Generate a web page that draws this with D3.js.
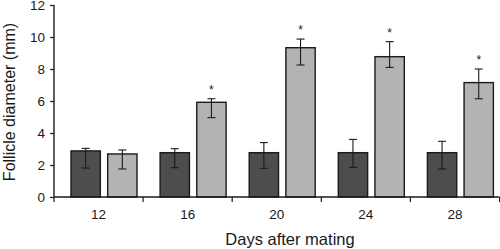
<!DOCTYPE html>
<html>
<head>
<meta charset="utf-8">
<script src="https://cdn.jsdelivr.net/npm/d3@7"></script>
<style>
  body { margin: 0; background: #fff; }
  text { font-family: "Liberation Sans", Arial, sans-serif; fill: #1a1a1a; }
</style>
</head>
<body>
<svg class="main" width="500" height="249"></svg>
<script>
// данные графика
const days = ["12", "16", "20", "24", "28"];
const groups = ["dark", "light"];
const darkMean = [2.88, 2.77, 2.77, 2.77, 2.77];
const darkLow = [1.81, 1.83, 1.79, 1.85, 1.75];
const darkHigh = [3.04, 3.02, 3.40, 3.60, 3.48];
const lightMean = [2.69, 5.92, 9.33, 8.77, 7.15];
const lightLow = [1.75, 4.96, 8.25, 8.10, 6.14];
const lightHigh = [2.94, 6.14, 9.87, 9.71, 8.00];
const starred = [false, true, true, true, true];
const yTicks = [0, 2, 4, 6, 8, 10, 12];

const svg = d3.select("svg.main");
const colors = {dark: "#4d4d4d", light: "#b3b3b3"};
const stroke = "#1a1a1a";

const x = d3.scaleBand().domain(days).range([54, 499.5]);
const x1 = d3.scaleBand().domain(groups).range([17, 83]).paddingInner(0.2);
const y = d3.scaleLinear().domain([0, 12]).range([197, 5]);

// таблица для столбиков
const rows = [];
days.forEach((d, i) => {
    rows.push({day: d, g: "dark", v: darkMean[i], lo: darkLow[i], hi: darkHigh[i], star: false});
    rows.push({day: d, g: "light", v: lightMean[i], lo: lightLow[i], hi: lightHigh[i], star: starred[i]});
});

const bars = svg.append("g");
bars.selectAll("rect").data(rows).join("rect")
    .attr("x", d => x(d.day) + x1(d.g))
    .attr("y", d => y(d.v))
    .attr("width", x1.bandwidth())
    .attr("height", d => y(0) - y(d.v))
    .attr("fill", d => colors[d.g])
    .attr("stroke", stroke)
    .attr("stroke-width", 1.4);

// планки погрешностей
const err = svg.append("g").attr("stroke", stroke).attr("stroke-width", 1.1);
rows.forEach(d => {
    const cx = x(d.day) + x1(d.g) + x1.bandwidth() / 2;
    err.append("line").attr("x1", cx).attr("x2", cx).attr("y1", y(d.lo)).attr("y2", y(d.hi));
    err.append("line").attr("x1", cx - 4).attr("x2", cx + 4).attr("y1", y(d.lo)).attr("y2", y(d.lo));
    err.append("line").attr("x1", cx - 4).attr("x2", cx + 4).attr("y1", y(d.hi)).attr("y2", y(d.hi));
});

svg.append("g").selectAll("text").data(rows.filter(d => d.star)).join("text")
    .attr("x", d => x(d.day) + x1(d.g) + x1.bandwidth() / 2)
    .attr("y", d => y(d.hi) - 5)
    .attr("text-anchor", "middle")
    .attr("font-size", 12)
    .text("*");

// оси
const yAxis = svg.append("g").attr("transform", "translate(54,0)")
    .call(d3.axisLeft(y).tickValues(yTicks).tickSize(4).tickPadding(5));
yAxis.selectAll("text").attr("font-size", 13.5);

const xAxis = svg.append("g").attr("transform", "translate(0,197)")
    .call(d3.axisBottom(x).tickSize(0).tickPadding(12));
xAxis.selectAll("text").attr("font-size", 13.5);
xAxis.selectAll(".tick").append("line")
    .attr("x1", -x.bandwidth() / 2).attr("x2", -x.bandwidth() / 2)
    .attr("y1", 0).attr("y2", 5).attr("stroke", stroke);
xAxis.append("line")
    .attr("x1", x.range()[1]).attr("x2", x.range()[1])
    .attr("y1", 0).attr("y2", 5).attr("stroke", stroke);

svg.selectAll(".domain").attr("stroke", stroke).attr("stroke-width", 1.4);
svg.selectAll(".tick line").attr("stroke", stroke).attr("stroke-width", 1.2);
xAxis.select(".domain").attr("d", `M${x.range()[0]},0H${x.range()[1]}`);
yAxis.select(".domain").attr("d", `M0,${y(12)}V${y(0)}`);

svg.append("text")
    .attr("x", 290).attr("y", 245)
    .attr("text-anchor", "middle")
    .attr("font-size", 16.5)
    .text("Days after mating");

svg.append("text")
    .attr("transform", "translate(15,102) rotate(-90)")
    .attr("text-anchor", "middle")
    .attr("font-size", 16)
    .text("Follicle diameter (mm)");
</script>
</body>
</html>
